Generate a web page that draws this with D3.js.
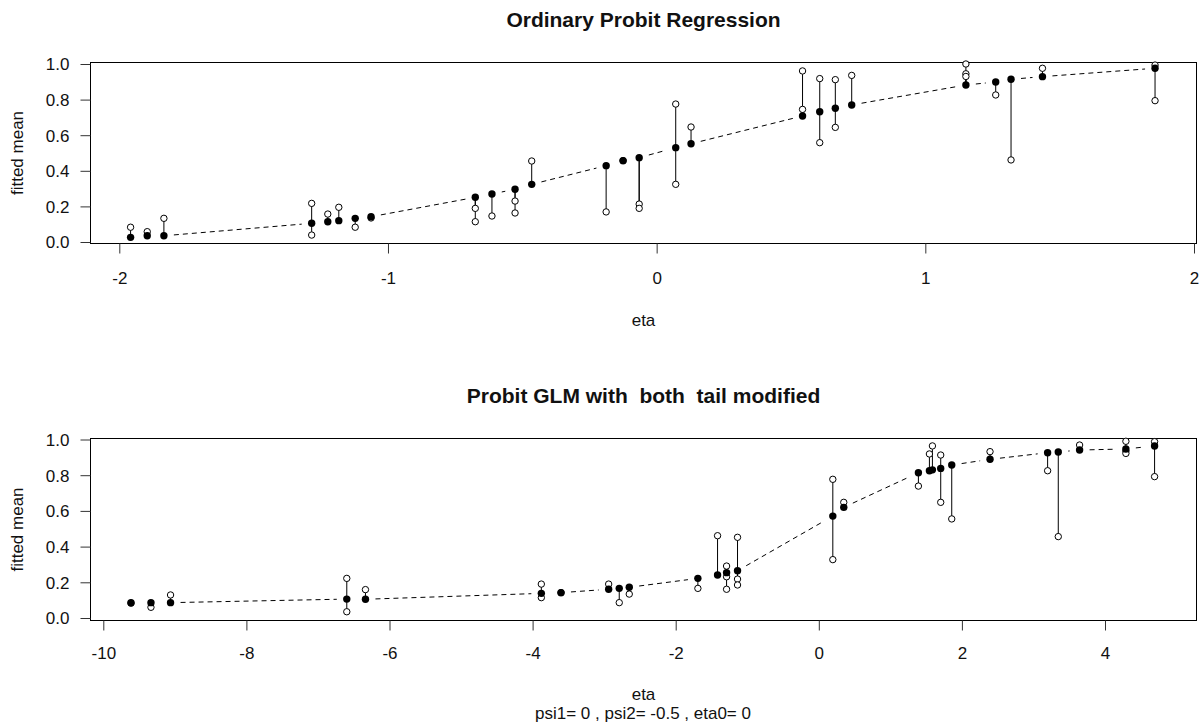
<!DOCTYPE html>
<html>
<head>
<meta charset="utf-8">
<script src="https://cdn.jsdelivr.net/npm/d3@7"></script>
<style>
  body { margin: 0; background: #fff; }
  svg text { font-family: "Liberation Sans", Arial, sans-serif; fill: #111; white-space: pre; }
</style>
</head>
<body>
<div id="chart"></div>
<script>
// top panel: ordinary probit
const etaTop = [-1.958, -1.896, -1.834, -1.284, -1.224, -1.183, -1.122, -1.063,
  -0.675, -0.613, -0.527, -0.465, -0.188, -0.125, -0.065, 0.071, 0.128,
  0.543, 0.607, 0.665, 0.726, 1.151, 1.262, 1.319, 1.436, 1.855];
const fitTop = [0.026, 0.035, 0.035, 0.105, 0.114, 0.120, 0.133, 0.142,
  0.251, 0.270, 0.296, 0.324, 0.429, 0.457, 0.474, 0.530, 0.552,
  0.708, 0.732, 0.751, 0.770, 0.882, 0.899, 0.914, 0.929, 0.976];
const obsTop = [[0.083], [0.058], [0.133], [0.217, 0.039], [0.157], [0.195], [0.083], [0.135],
  [0.189, 0.114], [0.146], [0.230, 0.163], [0.455], [0.169], [0.457], [0.213, 0.189], [0.775, 0.324], [0.646],
  [0.961, 0.745], [0.918, 0.558], [0.912, 0.644], [0.936], [1.0, 0.945, 0.93], [0.826], [0.461], [0.976], [0.994, 0.794]];

// bottom panel: both tails modified
const etaBot = [-9.613, -9.334, -9.06, -6.597, -6.336, -3.878, -3.603, -2.937, -2.789, -2.649,
  -1.690, -1.415, -1.289, -1.136, 0.196, 0.349, 1.392, 1.546, 1.588, 1.704, 1.858,
  2.393, 3.198, 3.347, 3.645, 4.292, 4.693];
const fitBot = [0.086, 0.086, 0.086, 0.106, 0.105, 0.138, 0.142, 0.161, 0.166, 0.172,
  0.222, 0.241, 0.254, 0.265, 0.571, 0.620, 0.814, 0.825, 0.830, 0.838, 0.857,
  0.889, 0.926, 0.930, 0.941, 0.947, 0.964];
const obsBot = [[0.083], [0.060], [0.129], [0.222, 0.035], [0.159], [0.190, 0.114], [0.142], [0.190], [0.086], [0.134],
  [0.166], [0.461], [0.291, 0.231, 0.161], [0.452, 0.218, 0.185], [0.777, 0.327], [0.648], [0.739], [0.919], [0.964], [0.913, 0.648], [0.555],
  [0.932], [0.825], [0.456], [0.969], [0.99, 0.935, 0.922], [0.988, 0.792]];

const xTicksTop = [-2, -1, 0, 1, 2];
const xTicksBot = [-10, -8, -6, -4, -2, 0, 2, 4];
const yTicks = [0, 0.2, 0.4, 0.6, 0.8, 1.0];

const W = 1203, H = 727;
const svg = d3.select("#chart").append("svg")
  .attr("width", W).attr("height", H);

function drawPanel(cfg) {
  const { eta, fit, obs, xDomain, xRange, yRange, box, xTicks, title, titleY, xlabY, tickLabY } = cfg;
  const x = d3.scaleLinear().domain(xDomain).range(xRange);
  const y = d3.scaleLinear().domain([0, 1]).range(yRange);
  const g = svg.append("g");

  // box
  g.append("rect")
    .attr("x", box.left).attr("y", box.top)
    .attr("width", box.right - box.left).attr("height", box.bottom - box.top)
    .attr("fill", "none").attr("stroke", "#000").attr("stroke-width", 1);

  // axes (R style: plain hyphen minus)
  const xAxis = d3.axisBottom(x).tickValues(xTicks).tickSize(10).tickFormat(d => String(d));
  const xg = g.append("g").attr("transform", `translate(0,${box.bottom})`).call(xAxis);
  xg.select(".domain").remove();
  xg.selectAll("line").attr("stroke", "#333");
  xg.selectAll("text").attr("y", 0).attr("dy", tickLabY - box.bottom + 6)
    .style("font-size", "17px").style("font-family", "Liberation Sans, Arial, sans-serif").attr("fill", "#111");

  const yAxis = d3.axisLeft(y).tickValues(yTicks).tickSize(10).tickFormat(d => d.toFixed(1));
  const yg = g.append("g").attr("transform", `translate(${box.left},0)`).call(yAxis);
  yg.select(".domain").remove();
  yg.selectAll("line").attr("stroke", "#333");
  yg.selectAll("text").attr("x", -21).attr("dy", "0.35em")
    .style("font-size", "17px").style("font-family", "Liberation Sans, Arial, sans-serif").attr("fill", "#111");

  // labels
  g.append("text").attr("x", (box.left + box.right) / 2).attr("y", titleY)
    .attr("text-anchor", "middle").attr("font-weight", "bold").attr("font-size", 21)
    .text(title);
  g.append("text").attr("x", (box.left + box.right) / 2).attr("y", xlabY)
    .attr("text-anchor", "middle").attr("font-size", 17).text("eta");
  g.append("text")
    .attr("transform", `translate(23,${(box.top + box.bottom) / 2}) rotate(-90)`)
    .attr("text-anchor", "middle").attr("font-size", 17).text("fitted mean");

  // dashed fitted line, type "b" style with gaps around points
  const gap = 10;
  const pts = eta.map((e, i) => [x(e), y(fit[i])]);
  for (let i = 0; i < pts.length - 1; i++) {
    const [x0, y0] = pts[i], [x1, y1] = pts[i + 1];
    const len = Math.hypot(x1 - x0, y1 - y0);
    if (len <= 2 * gap) continue;
    const ux = (x1 - x0) / len, uy = (y1 - y0) / len;
    g.append("line")
      .attr("x1", x0 + ux * gap).attr("y1", y0 + uy * gap)
      .attr("x2", x1 - ux * gap).attr("y2", y1 - uy * gap)
      .attr("stroke", "#000").attr("stroke-width", 1)
      .attr("stroke-dasharray", "5,4");
  }

  // vertical residual segments
  const segs = [];
  eta.forEach((e, i) => obs[i].forEach(o => segs.push({ e, f: fit[i], o })));
  g.append("g").selectAll("line").data(segs).join("line")
    .attr("x1", d => x(d.e)).attr("x2", d => x(d.e))
    .attr("y1", d => y(d.f)).attr("y2", d => y(d.o))
    .attr("stroke", "#000").attr("stroke-width", 1);

  // observed (open circles)
  g.append("g").selectAll("circle").data(segs).join("circle")
    .attr("cx", d => x(d.e)).attr("cy", d => y(d.o)).attr("r", 3.2)
    .attr("fill", "#fff").attr("stroke", "#000").attr("stroke-width", 1);

  // fitted (filled)
  g.append("g").selectAll("circle").data(eta).join("circle")
    .attr("cx", d => x(d)).attr("cy", (d, i) => y(fit[i])).attr("r", 3.7)
    .attr("fill", "#000");
}

drawPanel({
  eta: etaTop, fit: fitTop, obs: obsTop,
  xDomain: [-2, 2], xRange: [119.3, 1194],
  yRange: [242, 64],
  box: { left: 90.5, right: 1196.5, top: 62.5, bottom: 243.5 },
  xTicks: xTicksTop,
  title: "Ordinary Probit Regression", titleY: 27,
  xlabY: 326, tickLabY: 278
});

drawPanel({
  eta: etaBot, fit: fitBot, obs: obsBot,
  xDomain: [-10, 4], xRange: [103.3, 1105],
  yRange: [618, 439.5],
  box: { left: 90.5, right: 1196.5, top: 438.5, bottom: 620.5 },
  xTicks: xTicksBot,
  title: "Probit GLM with  both  tail modified", titleY: 403,
  xlabY: 700, tickLabY: 653
});

svg.append("text").attr("x", 643).attr("y", 719)
  .attr("text-anchor", "middle").attr("font-size", 17)
  .text("psi1= 0 , psi2= -0.5 , eta0= 0");
</script>
</body>
</html>
